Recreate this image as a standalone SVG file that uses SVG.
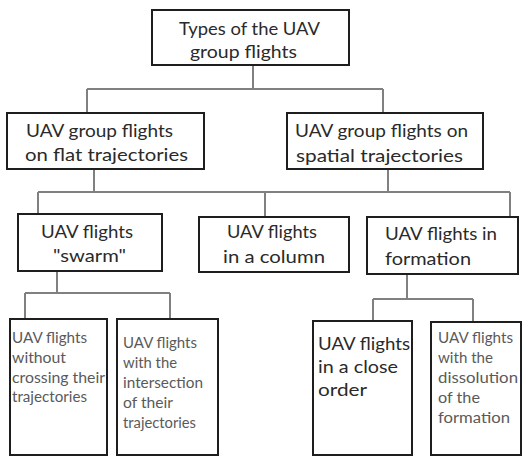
<svg xmlns="http://www.w3.org/2000/svg" width="523" height="457" viewBox="0 0 523 457">
<style>
.box{fill:#fff;stroke:#1e1e1e;stroke-width:2}
text{font-family:Lato,"Liberation Sans",Arial,sans-serif}
.t{font-size:18px;fill:#2a2a2a}
.s{font-size:14.5px;fill:#5a5a5a}
.m{font-size:17px;fill:#2a2a2a}
.c{fill:none;stroke:#808080;stroke-width:2}
</style>
<rect width="523" height="457" fill="#fff"/>
<g id="connectors" class="c">
<path d="M253 65V89M87 89H383M87 89V113M383 89V113"/>
<path d="M94 169V192M388 169V192M38 192H510M38 192V214M265 192V217M510 192V217"/>
<path d="M57 271V293M25 293H170M25 293V319M170 293V319"/>
<path d="M407 274V299M373 299H473M373 299V321M473 299V322"/>
</g>
<g id="root">
<rect class="box" x="152" y="10" width="197" height="55"/>
<text class="t" x="179" y="35" textLength="141" lengthAdjust="spacingAndGlyphs">Types of the UAV</text>
<text class="t" x="190" y="58" textLength="107" lengthAdjust="spacingAndGlyphs">group flights</text>
</g>
<g id="flat">
<rect class="box" x="7" y="113" width="197" height="56"/>
<text class="t" x="26" y="137" textLength="147" lengthAdjust="spacingAndGlyphs">UAV group flights</text>
<text class="t" x="25" y="161" textLength="163" lengthAdjust="spacingAndGlyphs">on flat trajectories</text>
</g>
<g id="spatial">
<rect class="box" x="287" y="113" width="196" height="56"/>
<text class="t" x="295" y="137" textLength="173" lengthAdjust="spacingAndGlyphs">UAV group flights on</text>
<text class="t" x="296" y="162" textLength="167" lengthAdjust="spacingAndGlyphs">spatial trajectories</text>
</g>
<g id="swarm">
<rect class="box" x="18" y="214" width="144" height="57"/>
<text class="t" x="41" y="238" textLength="92" lengthAdjust="spacingAndGlyphs">UAV flights</text>
<text class="t" x="53" y="262" textLength="73" lengthAdjust="spacingAndGlyphs">"swarm"</text>
</g>
<g id="column">
<rect class="box" x="199" y="217" width="150" height="55"/>
<text class="t" x="227" y="238" textLength="90" lengthAdjust="spacingAndGlyphs">UAV flights</text>
<text class="t" x="223" y="263" textLength="102" lengthAdjust="spacingAndGlyphs">in a column</text>
</g>
<g id="formation">
<rect class="box" x="367" y="217" width="151" height="57"/>
<text class="t" x="385" y="240" textLength="112" lengthAdjust="spacingAndGlyphs">UAV flights in</text>
<text class="t" x="385" y="265" textLength="86" lengthAdjust="spacingAndGlyphs">formation</text>
</g>
<g id="without-crossing">
<rect class="box" x="10" y="319" width="97" height="136"/>
<text class="s" x="12" y="343" textLength="75" lengthAdjust="spacingAndGlyphs">UAV flights</text>
<text class="s" x="12" y="363" textLength="54" lengthAdjust="spacingAndGlyphs">without</text>
<text class="s" x="12" y="383" textLength="93" lengthAdjust="spacingAndGlyphs">crossing their</text>
<text class="s" x="12" y="402" textLength="75" lengthAdjust="spacingAndGlyphs">trajectories</text>
</g>
<g id="with-intersection">
<rect class="box" x="117" y="319" width="101" height="136"/>
<text class="s" x="123" y="348" textLength="74" lengthAdjust="spacingAndGlyphs">UAV flights</text>
<text class="s" x="123" y="368" textLength="54" lengthAdjust="spacingAndGlyphs">with the</text>
<text class="s" x="123" y="388" textLength="80" lengthAdjust="spacingAndGlyphs">intersection</text>
<text class="s" x="123" y="408" textLength="50" lengthAdjust="spacingAndGlyphs">of their</text>
<text class="s" x="123" y="428" textLength="73" lengthAdjust="spacingAndGlyphs">trajectories</text>
</g>
<g id="close-order">
<rect class="box" x="313" y="321" width="99" height="134"/>
<text class="m" x="318" y="350" textLength="92" lengthAdjust="spacingAndGlyphs">UAV flights</text>
<text class="m" x="318" y="373" textLength="80" lengthAdjust="spacingAndGlyphs">in a close</text>
<text class="m" x="318" y="396" textLength="49" lengthAdjust="spacingAndGlyphs">order</text>
</g>
<g id="dissolution">
<rect class="box" x="431" y="322" width="90" height="133"/>
<text class="s" x="438" y="343" textLength="75" lengthAdjust="spacingAndGlyphs">UAV flights</text>
<text class="s" x="438" y="363" textLength="55" lengthAdjust="spacingAndGlyphs">with the</text>
<text class="s" x="438" y="383" textLength="80" lengthAdjust="spacingAndGlyphs">dissolution</text>
<text class="s" x="438" y="403" textLength="42" lengthAdjust="spacingAndGlyphs">of the</text>
<text class="s" x="438" y="423" textLength="72" lengthAdjust="spacingAndGlyphs">formation</text>
</g>
</svg>
